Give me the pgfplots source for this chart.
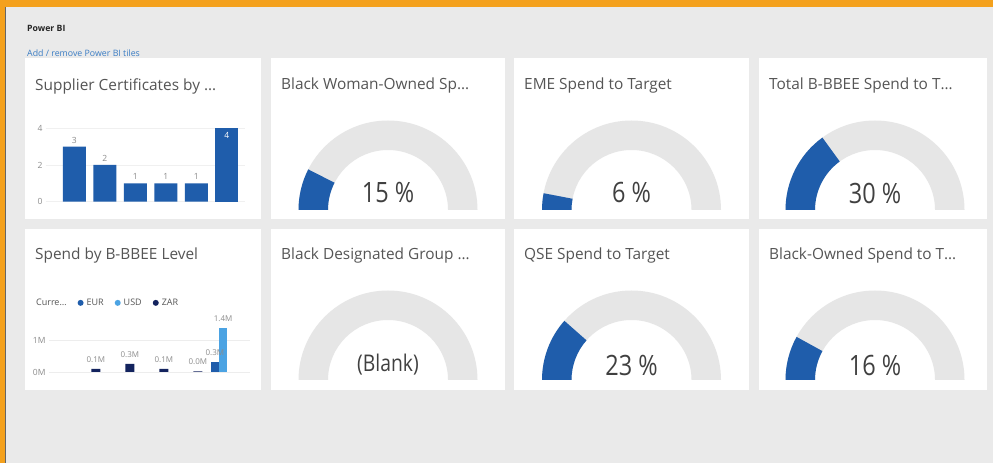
\documentclass[border=0pt]{standalone}
\usepackage{fontspec}
\setmainfont{Open Sans}
\newfontfamily\gaugefont[FakeStretch=0.84]{Open Sans}
\usepackage{pgfplots}
\pgfplotsset{compat=1.18}
\definecolor{bg}{HTML}{EAEAEA}
\definecolor{pborange}{HTML}{F4A11D}
\definecolor{pbblue}{HTML}{1F5DAB}
\definecolor{pblight}{HTML}{4BA3E3}
\definecolor{pbnavy}{HTML}{13235E}
\definecolor{gaugegray}{HTML}{E6E6E6}
\definecolor{titlegray}{HTML}{555555}
\definecolor{tickgray}{HTML}{8C8C8C}
\definecolor{linkblue}{HTML}{3B7DC4}
\newcommand{\titlefont}{\fontsize{15.4}{17}\selectfont}
\newcommand{\valfont}{\gaugefont\fontsize{28}{30}\selectfont}
% gauge: #1 lower-left x, #2 base y, #3 value (percent)
\newcommand{\gaugeaxis}[3]{%
\begin{axis}[hide axis, x=1pt, y=1pt, xmin=-95, xmax=95, ymin=0, ymax=95,
  at={(#1pt,#2pt)}, anchor=south west, clip=false]
  \fill[gaugegray] (axis cs:-89.5,0) arc[start angle=180,end angle=0,radius=89.5pt]
     -- (axis cs:60,0) arc[start angle=0,end angle=180,radius=60pt] -- cycle;
  \fill[pbblue] (axis cs:-89.5,0) arc[start angle=180,end angle={180-1.8*#3},radius=89.5pt]
     -- ++({180-1.8*#3}:-29.5pt) arc[start angle={180-1.8*#3},end angle=180,radius=60pt] -- cycle;
\end{axis}}
\begin{document}
\begin{tikzpicture}[x=1pt,y=1pt]
\path[use as bounding box] (0,0) rectangle (993,463);
% background and frame
\fill[bg] (0,0) rectangle (993,463);
\fill[pborange] (0,456) rectangle (993,463);
\fill[pborange] (0,0) rectangle (4.5,463);
\fill[black!60] (5.2,0) rectangle (6.4,456);
% header
\node[anchor=west, inner sep=0pt, font=\bfseries\fontsize{8.7}{10}\selectfont, text=black!85] at (27,435) {Power BI};
\node[anchor=west, inner sep=0pt, font=\fontsize{8.8}{10}\selectfont, text=linkblue] at (27,410) {Add / remove Power BI tiles};
% tiles
\foreach \xa/\xb in {25/261, 271/505, 514/749, 759/987}{
  \fill[white] (\xa,244) rectangle (\xb,405);
  \fill[white] (\xa,73) rectangle (\xb,234);
}
% titles
\begin{scope}[every node/.style={anchor=west, inner sep=0pt, font=\titlefont, text=titlegray}]
\node at (35,377) {Supplier Certificates by \ldots};
\node at (281,377) {Black Woman-Owned Sp\ldots};
\node at (524,377) {EME Spend to Target};
\node at (769,377) {Total B-BBEE Spend to T\ldots};
\node at (35,207) {Spend by B-BBEE Level};
\node at (281,207) {Black Designated Group \ldots};
\node at (524,207) {QSE Spend to Target};
\node at (769,207) {Black-Owned Spend to T\ldots};
\end{scope}
% chart 1: Supplier Certificates
\begin{axis}[at={(46pt,261.3pt)}, anchor=south west, x=30.5pt, y=18.35pt,
  xmin=-0.93, xmax=5.6, ymin=0, ymax=4.3,
  axis line style={draw=none}, major tick length=0pt,
  xtick=\empty, ytick={0,2,4}, ymajorgrids, grid style={black!6},
  /pgf/number format/assume math mode=true,
  yticklabel style={font=\fontsize{8.5}{9}\selectfont, text=tickgray},
  ybar, bar width=23pt, bar shift=0pt,
  nodes near coords,
  every node near coord/.append style={font=\fontsize{8.5}{9}\selectfont, text=tickgray}]
\addplot[fill=pbblue, draw=none] coordinates {(0,3) (1,2) (2,1) (3,1) (4,1)};
\addplot[fill=pbblue, draw=none, every node near coord/.append style={anchor=north, text=white, yshift=-1pt}] coordinates {(5,4)};
\end{axis}
% chart 2: Spend by B-BBEE Level
\begin{axis}[at={(49pt,91pt)}, anchor=south west, x=34pt, y=32pt,
  xmin=-1.38, xmax=4.53, ymin=0, ymax=1.45,
  axis line style={draw=none}, major tick length=0pt,
  xtick=\empty, ytick={0,1}, yticklabels={0M,1M}, ymajorgrids, grid style={black!7},
  yticklabel style={font=\fontsize{8.5}{9}\selectfont, text=tickgray},
  ybar, bar shift=0pt,
  point meta=explicit symbolic, nodes near coords,
  every node near coord/.append style={font=\fontsize{8}{9}\selectfont, text=tickgray, yshift=3pt},
  legend image code/.code={\fill[#1] (0.25em,0) circle (3pt);},
  legend style={at={(-0.08,1.49)}, anchor=west, draw=none, fill=none, legend columns=-1,
    font=\fontsize{9}{10}\selectfont, text=titlegray, inner sep=0pt,
    /tikz/every odd column/.append style={column sep=1pt},
    /tikz/every even column/.append style={column sep=9pt}}]
\addlegendimage{empty legend}
\addlegendentry{Curre\ldots}
\addplot[fill=pbblue, draw=none, bar width=7.5pt] coordinates {(3.5,0.3) [0.3M]};
\addlegendentry{EUR}
\addplot[fill=pblight, draw=none, bar width=7.5pt] coordinates {(3.74,1.38) [1.4M]};
\addlegendentry{USD}
\addplot[fill=pbnavy, draw=none, bar width=9pt] coordinates {(0,0.1) [0.1M] (1,0.25) [0.3M] (2,0.1) [0.1M] (3,0.02) [0.0M]};
\addlegendentry{ZAR}
\end{axis}
% gauges row 1
\gaugeaxis{293}{253}{15}
\gaugeaxis{536.5}{253}{6}
\gaugeaxis{780}{253}{30}
% gauges row 2
\begin{axis}[hide axis, x=1pt, y=1pt, xmin=-95, xmax=95, ymin=0, ymax=95,
  at={(293pt,83pt)}, anchor=south west, clip=false]
  \fill[gaugegray] (axis cs:-89.5,0) arc[start angle=180,end angle=0,radius=89.5pt]
     -- (axis cs:60,0) arc[start angle=0,end angle=180,radius=60pt] -- cycle;
\end{axis}
\gaugeaxis{536.5}{83}{23}
\gaugeaxis{780}{83}{16}
% gauge values
\begin{scope}[every node/.style={inner sep=0pt, font=\valfont, text=black!75}]
\node at (388,270) {15 \%};
\node at (631.5,270) {6 \%};
\node at (875,270) {30 \%};
\node[font=\gaugefont\fontsize{23}{25}\selectfont] at (388,98) {(Blank)};
\node at (631.5,98) {23 \%};
\node at (875,98) {16 \%};
\end{scope}
\end{tikzpicture}
\end{document}
